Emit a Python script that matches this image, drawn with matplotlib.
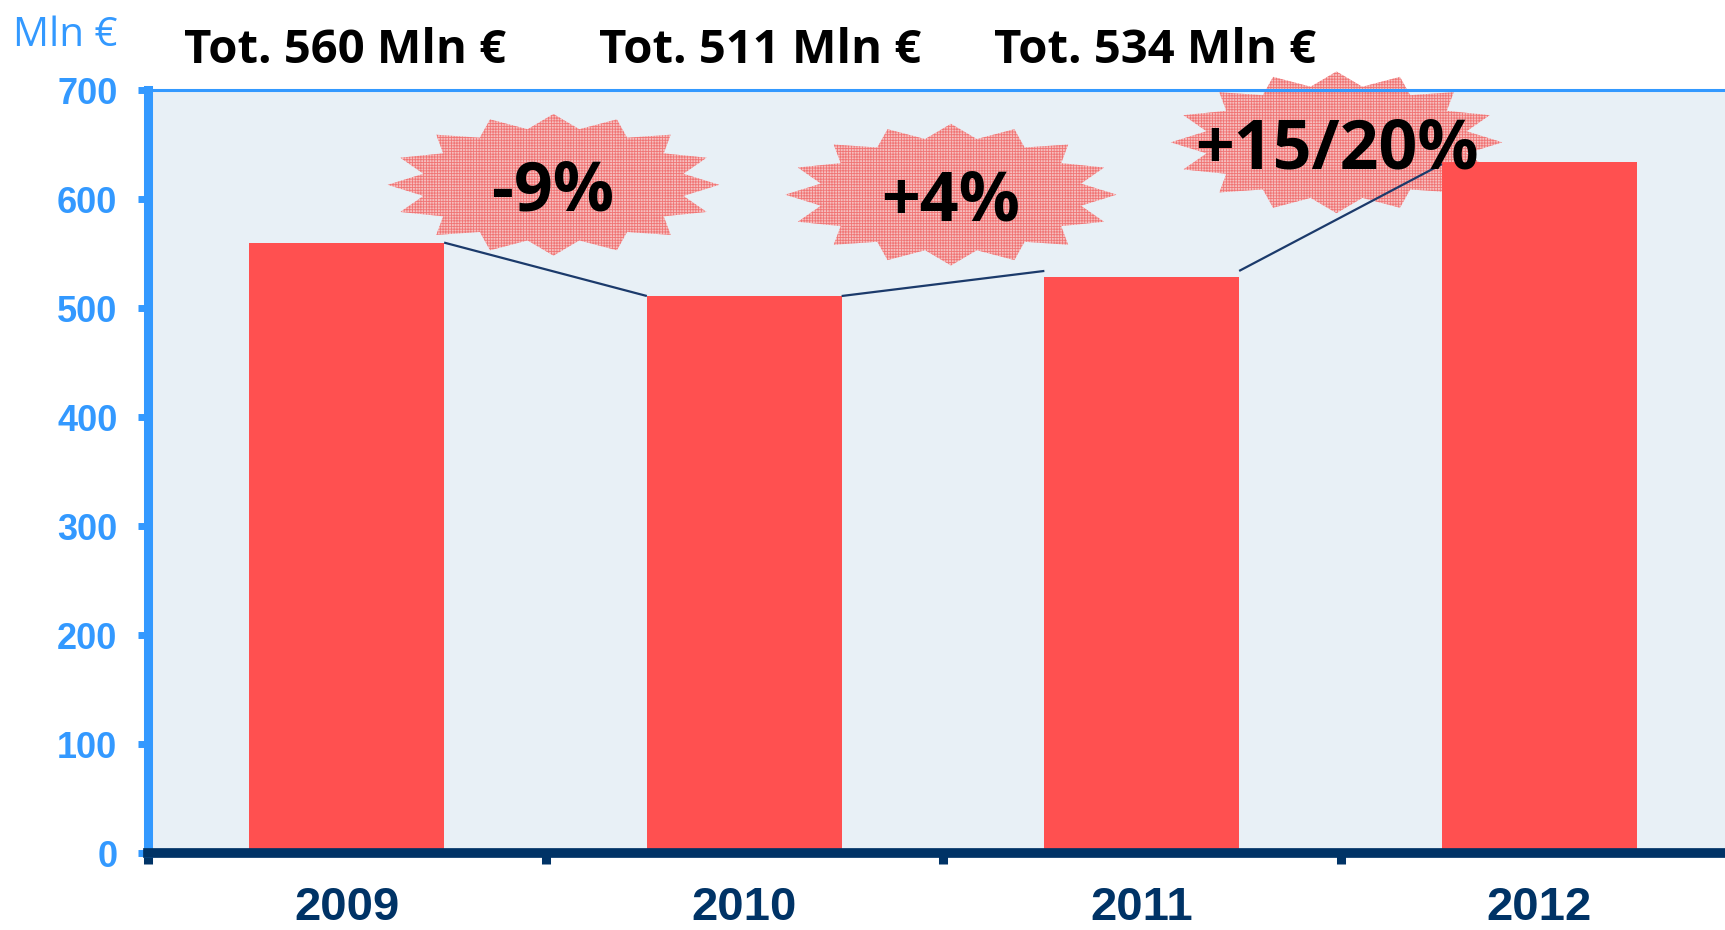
import matplotlib
matplotlib.use('Agg')
import matplotlib.pyplot as plt
import numpy as np
from matplotlib.patches import Polygon
from matplotlib import font_manager as fm

# ---- data ----
years = ['2009', '2010', '2011', '2012']
values = [560, 511, 528, 634]
line_values = [560, 511, 534, 632]
totals = ['Tot. 560 Mln €', 'Tot. 511 Mln €', 'Tot. 534 Mln €']
changes = ['-9%', '+4%', '+15/20%']
yticks = [0, 100, 200, 300, 400, 500, 600, 700]


def has_font(name):
    try:
        fm.findfont(fm.FontProperties(family=name), fallback_to_default=False)
        return True
    except Exception:
        return False


NARROW = 'Liberation Sans Narrow' if has_font('Liberation Sans Narrow') else 'Liberation Sans'
ARIAL = 'Liberation Sans'
HUMAN = 'Open Sans'

plt.rcParams['hatch.color'] = '#F07474'
plt.rcParams['hatch.linewidth'] = 0.6

W, H = 1725, 930
fig = plt.figure(figsize=(W / 100, H / 100), dpi=100)
left_px, right_px, top_px, bottom_px = 148, 1725, 90, 853
ax = fig.add_axes([left_px / W, 1 - bottom_px / H, (right_px - left_px) / W, (bottom_px - top_px) / H])
ax.set_facecolor('#E8F0F6')

x = np.arange(len(years))
bw = 0.49
ax.bar(x, values, width=bw, color='#FF5050', zorder=1)
ax.set_xlim(-0.5, -0.5 + (right_px - left_px) / 397.5)
ax.set_ylim(0, 700)

# connecting lines between bar tops
for i in range(len(years) - 1):
    ax.plot([x[i] + bw / 2, x[i + 1] - bw / 2], [line_values[i], line_values[i + 1]],
            color='#1B3A6B', lw=1.6, zorder=3, solid_capstyle='butt')


def star(cx, cy, rx, ry, n=16, inner=0.8):
    a = np.arange(2 * n) * np.pi / n
    r = np.where(np.arange(2 * n) % 2 == 0, 1.0, inner)
    return np.column_stack([cx + rx * r * np.cos(a), cy + ry * r * np.sin(a)])


burst_cx = [0.52, 1.52, 2.49]
burst_cy = [613, 604, 652]
for cx, cy, lab in zip(burst_cx, burst_cy, changes):
    poly = Polygon(star(cx, cy, 0.417, 65), closed=True, facecolor='#F6C0C0',
                   edgecolor=None, linewidth=0, hatch='++++++', zorder=0.8, clip_on=False)
    ax.add_patch(poly)
    ax.text(cx, cy - 24, lab, ha='center', va='baseline', fontsize=49,
            fontweight='bold', family=HUMAN, color='black', zorder=4, clip_on=False)

# spines
ax.spines['right'].set_visible(False)
ax.spines['left'].set_color('#3399FF')
ax.spines['left'].set_linewidth(6.5)
ax.spines['top'].set_color('#3399FF')
ax.spines['top'].set_linewidth(2.2)
ax.spines['bottom'].set_color('#003366')
ax.spines['bottom'].set_linewidth(7)
ax.spines['bottom'].set_zorder(3.5)

# y axis
ax.set_yticks(yticks)
ax.set_yticklabels([str(v) for v in yticks], family=ARIAL, fontweight='bold', fontsize=26)
ax.tick_params(axis='y', colors='#3399FF', length=7, width=5, pad=15)

# x axis
ax.set_xticks([-0.5, 0.5, 1.5, 2.5])
ax.set_xticklabels([])
ax.tick_params(axis='x', which='major', color='#003366', length=8, width=6.5, direction='out')
ax.set_xticks(x, minor=True)
ax.set_xticklabels(years, minor=True, family=NARROW, fontweight='bold',
                   fontsize=37 if NARROW != ARIAL else 34)
ax.tick_params(axis='x', which='minor', length=0, pad=24, labelcolor='#003366')

# texts at top
fig.text(13 / W, 1 - 46 / H, 'Mln €', color='#3399FF', fontsize=29, family=HUMAN,
         ha='left', va='baseline')
for px, t in zip([345, 760, 1155], totals):
    fig.text(px / W, 1 - 63 / H, t, color='black', fontsize=34, fontweight='bold',
             family=HUMAN, ha='center', va='baseline')

fig.savefig('out.png', dpi=100)
